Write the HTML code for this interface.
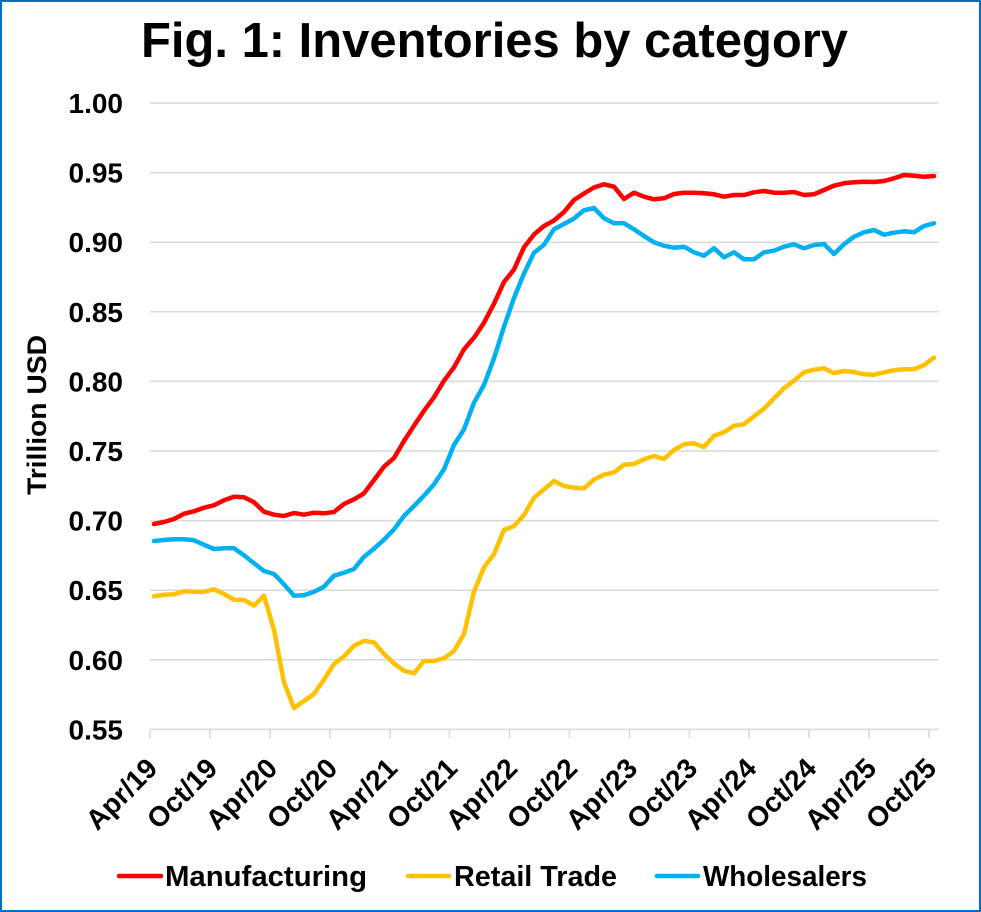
<!DOCTYPE html>
<html><head><meta charset="utf-8"><style>
html,body{margin:0;padding:0;background:#fff;}
svg{display:block;font-family:"Liberation Sans",Arial,sans-serif;font-weight:bold;}
</style></head><body>
<svg width="981" height="912" viewBox="0 0 981 912" xmlns="http://www.w3.org/2000/svg">
<rect x="0" y="0" width="981" height="912" fill="#fff"/>
<rect x="1" y="1" width="979" height="910" fill="none" stroke="#0070C0" stroke-width="2"/>
<text x="141" y="57" font-size="49" textLength="707" lengthAdjust="spacingAndGlyphs" fill="#000">Fig. 1: Inventories by category</text>
<g stroke="#D9D9D9" stroke-width="1.5">
<line x1="150" y1="103" x2="939" y2="103"/>
<line x1="150" y1="172.6" x2="939" y2="172.6"/>
<line x1="150" y1="242.2" x2="939" y2="242.2"/>
<line x1="150" y1="311.8" x2="939" y2="311.8"/>
<line x1="150" y1="381.4" x2="939" y2="381.4"/>
<line x1="150" y1="451" x2="939" y2="451"/>
<line x1="150" y1="520.6" x2="939" y2="520.6"/>
<line x1="150" y1="590.2" x2="939" y2="590.2"/>
<line x1="150" y1="659.8" x2="939" y2="659.8"/>
<line x1="150" y1="729.4" x2="939" y2="729.4"/>
<line x1="150" y1="729" x2="150" y2="738"/>
<line x1="210" y1="729" x2="210" y2="738"/>
<line x1="270" y1="729" x2="270" y2="738"/>
<line x1="330" y1="729" x2="330" y2="738"/>
<line x1="390" y1="729" x2="390" y2="738"/>
<line x1="449.5" y1="729" x2="449.5" y2="738"/>
<line x1="509.5" y1="729" x2="509.5" y2="738"/>
<line x1="569.5" y1="729" x2="569.5" y2="738"/>
<line x1="629.5" y1="729" x2="629.5" y2="738"/>
<line x1="689.5" y1="729" x2="689.5" y2="738"/>
<line x1="749" y1="729" x2="749" y2="738"/>
<line x1="809" y1="729" x2="809" y2="738"/>
<line x1="869" y1="729" x2="869" y2="738"/>
<line x1="929" y1="729" x2="929" y2="738"/>
</g>
<g font-size="28" text-anchor="end" fill="#000">
<text x="123" y="113">1.00</text>
<text x="123" y="182.6">0.95</text>
<text x="123" y="252.2">0.90</text>
<text x="123" y="321.8">0.85</text>
<text x="123" y="391.4">0.80</text>
<text x="123" y="461">0.75</text>
<text x="123" y="530.6">0.70</text>
<text x="123" y="600.2">0.65</text>
<text x="123" y="669.8">0.60</text>
<text x="123" y="739.4">0.55</text>
</g>
<text transform="translate(46,415) rotate(-90)" text-anchor="middle" font-size="27" textLength="160" lengthAdjust="spacingAndGlyphs" fill="#000">Trillion USD</text>
<g font-size="28" text-anchor="end" fill="#000">
<text transform="translate(159,770) rotate(-45)">Apr/19</text>
<text transform="translate(219,770) rotate(-45)">Oct/19</text>
<text transform="translate(279,770) rotate(-45)">Apr/20</text>
<text transform="translate(339,770) rotate(-45)">Oct/20</text>
<text transform="translate(399,770) rotate(-45)">Apr/21</text>
<text transform="translate(459,770) rotate(-45)">Oct/21</text>
<text transform="translate(519,770) rotate(-45)">Apr/22</text>
<text transform="translate(579,770) rotate(-45)">Oct/22</text>
<text transform="translate(639,770) rotate(-45)">Apr/23</text>
<text transform="translate(699,770) rotate(-45)">Oct/23</text>
<text transform="translate(758,770) rotate(-45)">Apr/24</text>
<text transform="translate(818,770) rotate(-45)">Oct/24</text>
<text transform="translate(878,770) rotate(-45)">Apr/25</text>
<text transform="translate(938,770) rotate(-45)">Oct/25</text>
</g>
<g fill="none" stroke-width="4.5" stroke-linejoin="round" stroke-linecap="round">
<polyline stroke="#FF0000" points="154,524 164,522 174,519 184,513.7 194,511.3 204,507.7 214,505.3 224,500.3 234,496.7 244,497.3 254,502.3 264,511.7 274,514.7 284,516 294,513 304,514.7 314,512.7 324,513.3 334,512 344,504 354,499.3 364,493.3 374,480 384,466.7 394,458 404,441 414,425.7 424,410.7 434,397.3 444,380.7 454,367.3 464,349.3 474,337.7 484,322.7 494,303.7 504,282 514,269.5 524,247.3 534,234.5 544,226 554,220.5 564,212 574,200 584,193.5 594,187.5 604,184.3 614,186.7 624,199 634,192.7 644,196.7 654,199.3 664,198.3 674,194 684,192.7 694,192.7 704,193.3 714,194.3 724,196.7 734,195 744,195 754,192.3 764,191 774,192.7 784,192.7 794,192 804,195 814,194.3 824,190 834,185.7 844,183.3 854,182.3 864,181.7 874,182 884,181 894,178.3 904,175 914,175.7 924,176.7 934,176"/>
<polyline stroke="#FFC000" points="154,596.3 164,594.7 174,594.3 184,591.3 194,591.7 204,591.7 214,589.3 224,594 234,599.7 244,600 254,605.5 264,595.7 274,630 284,682.5 294,708 304,701 314,694 324,679.5 334,664 344,656.5 354,645.7 364,641 374,642.3 384,654 394,663.5 404,670.7 414,673.3 424,661 434,661 444,658.3 454,651 464,634 474,591.7 484,567.3 494,554 504,530 514,526 524,515 534,497.7 544,489.3 554,481 564,486 574,487.7 584,488.3 594,479.5 604,474.7 614,472.3 624,464.7 634,464 644,459.3 654,456 664,459 674,450 684,444.3 694,443.3 704,447 714,435.7 724,432.3 734,425.7 744,424.3 754,416.3 764,408.7 774,398.3 784,388.3 794,380.7 804,372.3 814,369.7 824,368.3 834,373 844,371 854,372 864,374.3 874,374.7 884,372.3 894,370.3 904,369.3 914,369.3 924,365 934,357.7"/>
<polyline stroke="#00B0F0" points="154,541 164,540 174,539.3 184,539.3 194,540.3 204,544.7 214,549 224,548.3 234,548.3 244,555.3 254,563.3 264,571 274,574 284,584.3 294,595.7 304,595.3 314,591.7 324,586.7 334,575.7 344,572.7 354,569 364,556.7 374,548.7 384,539.7 394,529.3 404,516 414,506 424,495.7 434,484.3 444,469.3 454,445 464,429.3 474,402.7 484,385 494,358.3 504,326.7 514,298 524,273.5 534,252.7 544,244.7 554,229.2 564,224 574,218.5 584,210.3 594,208 604,218.3 614,223.3 624,223.3 634,229.3 644,236 654,242.3 664,245.7 674,247.7 684,246.7 694,252.3 704,255.7 714,248.3 724,257.3 734,252.3 744,259.3 754,259.3 764,252.3 774,250.7 784,246.7 794,244.3 804,248.3 814,245 824,244 834,254 844,244.3 854,236.7 864,232.3 874,230 884,234.7 894,232.7 904,231.3 914,232.3 924,226 934,223.3"/>
</g>
<g stroke-width="4.5" stroke-linecap="round">
<line x1="119" y1="876" x2="161" y2="876" stroke="#FF0000"/>
<line x1="408" y1="876" x2="449" y2="876" stroke="#FFC000"/>
<line x1="657" y1="876" x2="698" y2="876" stroke="#00B0F0"/>
</g>
<g font-size="29" fill="#000">
<text x="165" y="886" textLength="202" lengthAdjust="spacingAndGlyphs">Manufacturing</text>
<text x="454" y="886" textLength="163" lengthAdjust="spacingAndGlyphs">Retail Trade</text>
<text x="703" y="886" textLength="164" lengthAdjust="spacingAndGlyphs">Wholesalers</text>
</g>
</svg>
</body></html>
